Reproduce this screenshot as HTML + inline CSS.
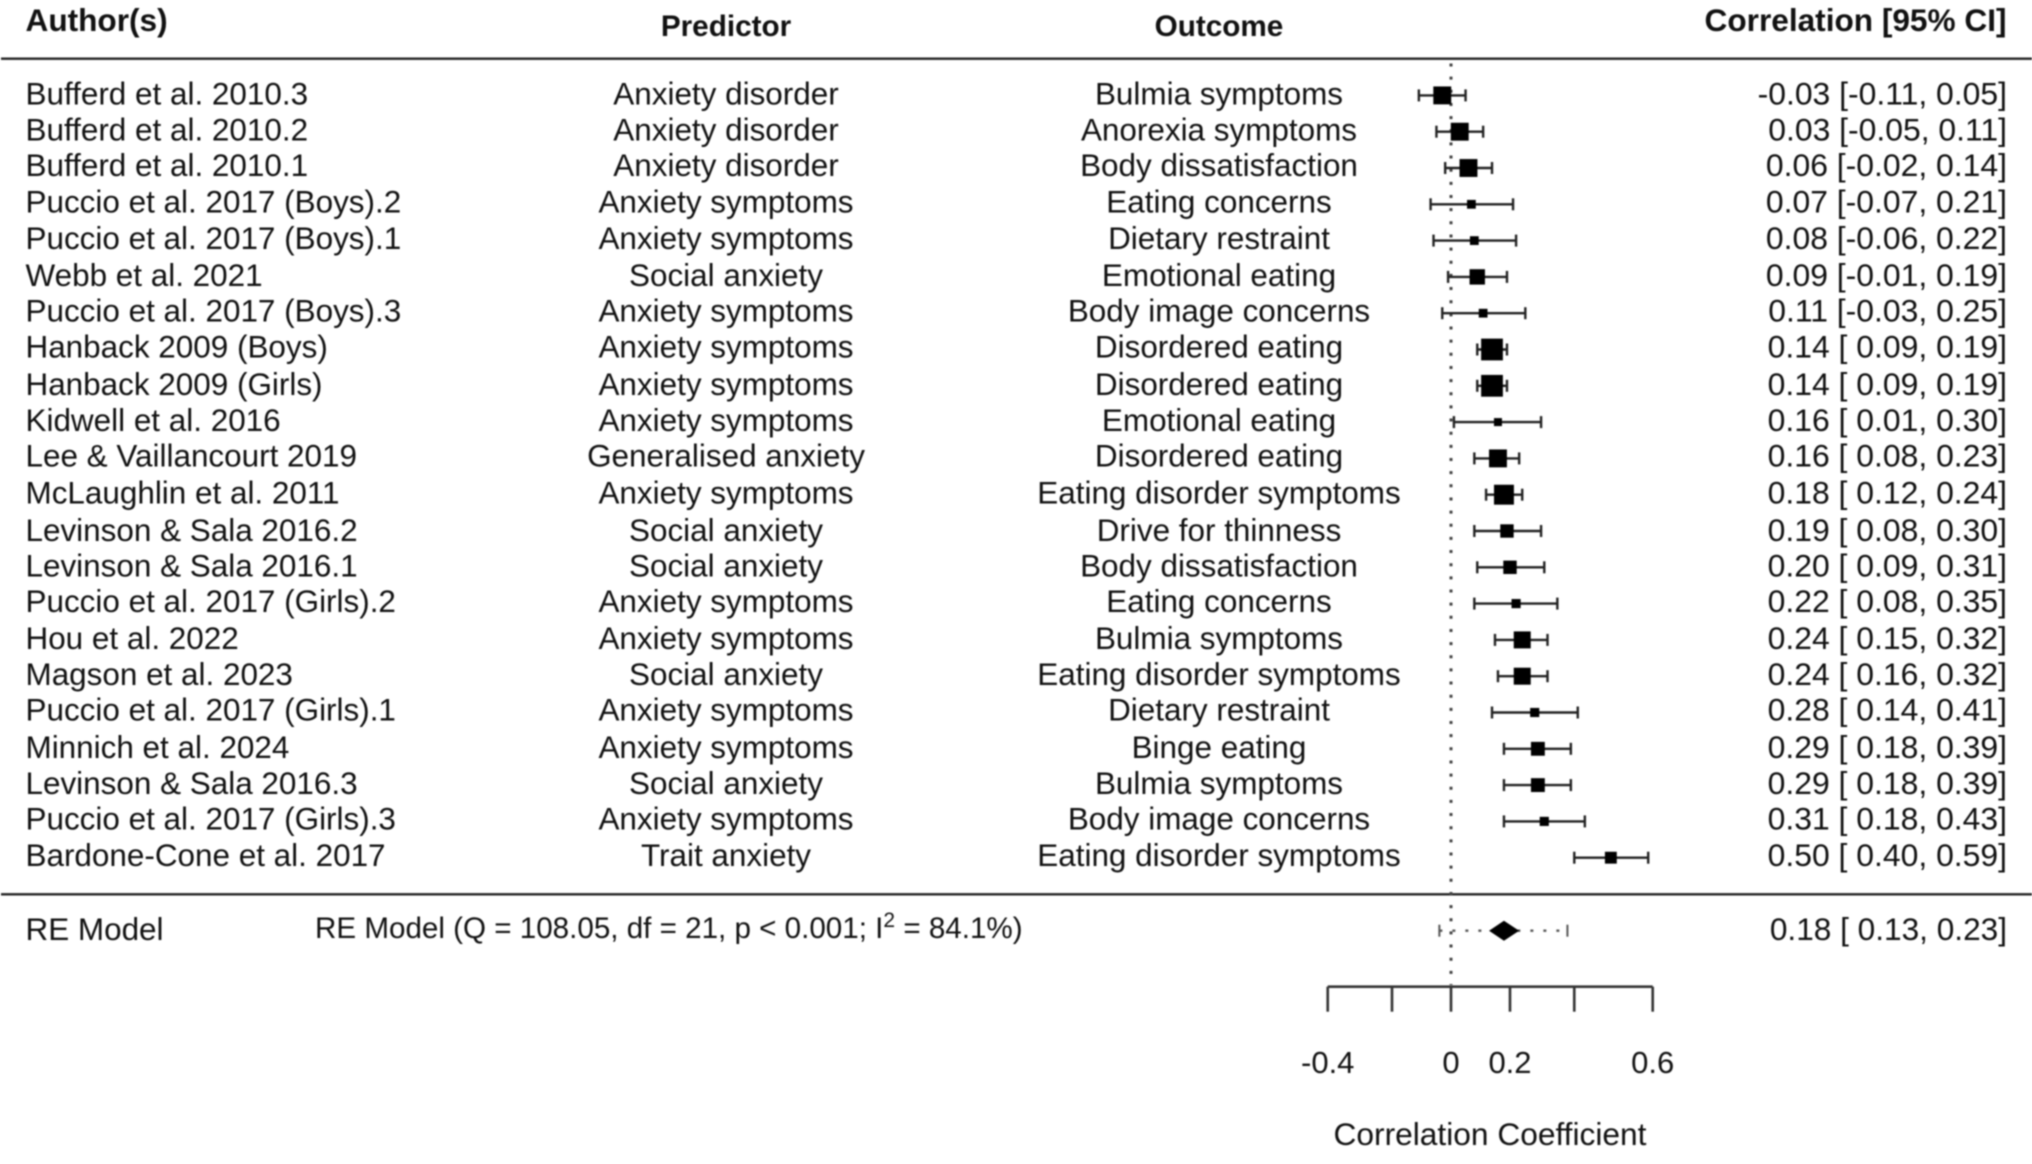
<!DOCTYPE html>
<html lang="en">
<head>
<meta charset="utf-8">
<title>Forest plot of anxiety and eating outcomes</title>
<style>
html,body{margin:0;padding:0;background:#fff;width:2032px;height:1164px;overflow:hidden}
svg{display:block;filter:blur(.85px)}
text{font-family:"Liberation Sans",Arial,sans-serif;font-size:31.45px;fill:#111;white-space:pre}
.head{font-weight:bold;font-size:31.6px}
.head-mid{font-weight:bold;font-size:29.7px}
.value{font-size:31.9px}
.summary-value{font-size:31.6px}
.tick{font-size:31px}
</style>
</head>
<body>
<svg id="chart" xmlns="http://www.w3.org/2000/svg" width="2032" height="1164" viewBox="0 0 2032 1164">
  <rect width="2032" height="1164" fill="#fff"/>
  <text class="head" x="25.5" y="31">Author(s)</text>
  <text class="head-mid" x="726" y="36" text-anchor="middle">Predictor</text>
  <text class="head-mid" x="1219" y="36" text-anchor="middle">Outcome</text>
  <text class="head" x="2006.5" y="31" text-anchor="end">Correlation [95% CI]</text>
  <line x1="1" x2="2032" y1="58.7" y2="58.7" stroke="#222" stroke-width="2.4"/>
  <line x1="1" x2="2032" y1="894.3" y2="894.3" stroke="#222" stroke-width="2.4"/>
  <line id="refLine" y1="63.5" y2="985" stroke="#444" stroke-width="3" stroke-dasharray="3 10.15"/>
  <g id="rows"></g>
  <text x="25.5" y="940">RE Model</text>
  <text x="315" y="938" style="font-size:29.6px">RE Model (Q = 108.05, df = 21, p &lt; 0.001; I<tspan dy="-11" style="font-size:21px">2</tspan><tspan dy="11"> = 84.1%)</tspan></text>
  <g id="summary"></g>
  <g id="axis"></g>
  <text x="1490" y="1145" text-anchor="middle" style="font-size:31.7px">Correlation Coefficient</text>
</svg>
<script>
const authors = ["Bufferd et al. 2010.3","Bufferd et al. 2010.2","Bufferd et al. 2010.1","Puccio et al. 2017 (Boys).2","Puccio et al. 2017 (Boys).1","Webb et al. 2021","Puccio et al. 2017 (Boys).3","Hanback 2009 (Boys)","Hanback 2009 (Girls)","Kidwell et al. 2016","Lee & Vaillancourt 2019","McLaughlin et al. 2011","Levinson & Sala 2016.2","Levinson & Sala 2016.1","Puccio et al. 2017 (Girls).2","Hou et al. 2022","Magson et al. 2023","Puccio et al. 2017 (Girls).1","Minnich et al. 2024","Levinson & Sala 2016.3","Puccio et al. 2017 (Girls).3","Bardone-Cone et al. 2017"];
const predictors = ["Anxiety disorder","Anxiety disorder","Anxiety disorder","Anxiety symptoms","Anxiety symptoms","Social anxiety","Anxiety symptoms","Anxiety symptoms","Anxiety symptoms","Anxiety symptoms","Generalised anxiety","Anxiety symptoms","Social anxiety","Social anxiety","Anxiety symptoms","Anxiety symptoms","Social anxiety","Anxiety symptoms","Anxiety symptoms","Social anxiety","Anxiety symptoms","Trait anxiety"];
const outcomes = ["Bulmia symptoms","Anorexia symptoms","Body dissatisfaction","Eating concerns","Dietary restraint","Emotional eating","Body image concerns","Disordered eating","Disordered eating","Emotional eating","Disordered eating","Eating disorder symptoms","Drive for thinness","Body dissatisfaction","Eating concerns","Bulmia symptoms","Eating disorder symptoms","Dietary restraint","Binge eating","Bulmia symptoms","Body image concerns","Eating disorder symptoms"];
const estimates = [-0.03,0.03,0.06,0.07,0.08,0.09,0.11,0.14,0.14,0.16,0.16,0.18,0.19,0.20,0.22,0.24,0.24,0.28,0.29,0.29,0.31,0.50];
const lowerBounds = [-0.11,-0.05,-0.02,-0.07,-0.06,-0.01,-0.03,0.09,0.09,0.01,0.08,0.12,0.08,0.09,0.08,0.15,0.16,0.14,0.18,0.18,0.18,0.40];
const upperBounds = [0.05,0.11,0.14,0.21,0.22,0.19,0.25,0.19,0.19,0.30,0.23,0.24,0.30,0.31,0.35,0.32,0.32,0.41,0.39,0.39,0.43,0.59];
const relativeWeights = [5.0,5.0,5.0,1.2,1.2,3.7,1.2,7.4,7.4,1.0,5.0,6.2,2.8,2.8,1.3,4.5,4.5,1.3,3.0,3.0,1.3,2.2];
const summaryEstimate = 0.18;
const summaryLower = 0.13;
const summaryUpper = 0.23;
const predictionLower = -0.04;
const predictionUpper = 0.38;
const axisTicks = [-0.4,-0.2,0,0.2,0.4,0.6];
const axisTickLabels = ["-0.4","","0","0.2","","0.6"];

const NS = "http://www.w3.org/2000/svg";
const xScale = r => 1451 + 291 * Math.atanh(r);
const yScale = i => 95.4 + 36.3 * i;
const markSize = w => 8 * Math.sqrt(w);
const fmt = v => (v < 0 ? "" : " ") + v.toFixed(2);
const label = (e, l, u) => e.toFixed(2) + " [" + fmt(l) + ", " + u.toFixed(2) + "]";
// The reference's text lines snap to a coarse pixel grid; these rows sit slightly above or below the regular row spacing.
const raisedTextRows = [2,3,4,6,7,10,14,17,20,21];
const loweredTextRows = [12];
const textBaseline = i => yScale(i) + 9 + (raisedTextRows.includes(i) ? -0.8 : 0) + (loweredTextRows.includes(i) ? 1.0 : 0);

function make(parent, tag, attrs, content) {
  const el = document.createElementNS(NS, tag);
  for (const k in attrs) el.setAttribute(k, attrs[k]);
  if (content !== undefined) el.textContent = content;
  parent.appendChild(el);
  return el;
}
function rule(parent, x1, x2, y1, y2, width, color) {
  return make(parent, "line", {x1, x2, y1, y2, stroke: color, "stroke-width": width});
}

document.getElementById("refLine").setAttribute("x1", xScale(0));
document.getElementById("refLine").setAttribute("x2", xScale(0));

const rowsGroup = document.getElementById("rows");
authors.forEach((author, i) => {
  const y = yScale(i);
  const base = textBaseline(i);
  const row = make(rowsGroup, "g", {});
  
  

  const t1 = make(row, "text", {x: 25.5, y: base}, author);
  
  
  const t2 = make(row, "text", {x: 726, y: base, "text-anchor": "middle"}, predictors[i]);
  
  
  const t3 = make(row, "text", {x: 1219, y: base, "text-anchor": "middle"}, outcomes[i]);
  
  
  const t4 = make(row, "text", {x: 2007, y: base, "text-anchor": "end", class: "value"}, label(estimates[i], lowerBounds[i], upperBounds[i]));
  
  

  const xl = xScale(lowerBounds[i]);
  const xu = xScale(upperBounds[i]);
  const ci = rule(row, xl, xu, y, y, 2.4, "#222");
  
  
  const capL = rule(row, xl, xl, y - 6, y + 6, 2.4, "#222");
  
  
  const capU = rule(row, xu, xu, y - 6, y + 6, 2.4, "#222");
  
  

  const s = markSize(relativeWeights[i]);
  const box = make(row, "rect", {x: xScale(estimates[i]) - s / 2, y: y - s / 2, width: s, height: s, fill: "#000"});
  
  
});

const sumGroup = document.getElementById("summary");
const sy = 930.7;
const pi = rule(sumGroup, xScale(predictionLower), xScale(predictionUpper), sy, sy, 2.4, "#555");
pi.setAttribute("stroke-dasharray", "3 10");


const piL = rule(sumGroup, xScale(predictionLower), xScale(predictionLower), sy - 6, sy + 6, 2, "#555");


const piU = rule(sumGroup, xScale(predictionUpper), xScale(predictionUpper), sy - 6, sy + 6, 2, "#555");


const diamond = make(sumGroup, "polygon", {
  points: [[xScale(summaryLower), sy], [xScale(summaryEstimate), sy - 10], [xScale(summaryUpper), sy], [xScale(summaryEstimate), sy + 10]].map(p => p.join(",")).join(" "),
  fill: "#000"
});


const sumText = make(sumGroup, "text", {x: 2007, y: 940, "text-anchor": "end", class: "summary-value"}, label(summaryEstimate, summaryLower, summaryUpper));



const axisGroup = document.getElementById("axis");
const axisY = 986.7;
const axisLine = rule(axisGroup, xScale(axisTicks[0]), xScale(axisTicks[axisTicks.length - 1]), axisY, axisY, 2.6, "#333");


axisTicks.forEach((t, i) => {
  const tick = rule(axisGroup, xScale(t), xScale(t), axisY, axisY + 25, 2.6, "#333");
  
  
  if (axisTickLabels[i]) {
    const tl = make(axisGroup, "text", {x: xScale(t), y: 1073, "text-anchor": "middle", class: "tick"}, axisTickLabels[i]);
    
    
  }
});
</script>
</body>
</html>
